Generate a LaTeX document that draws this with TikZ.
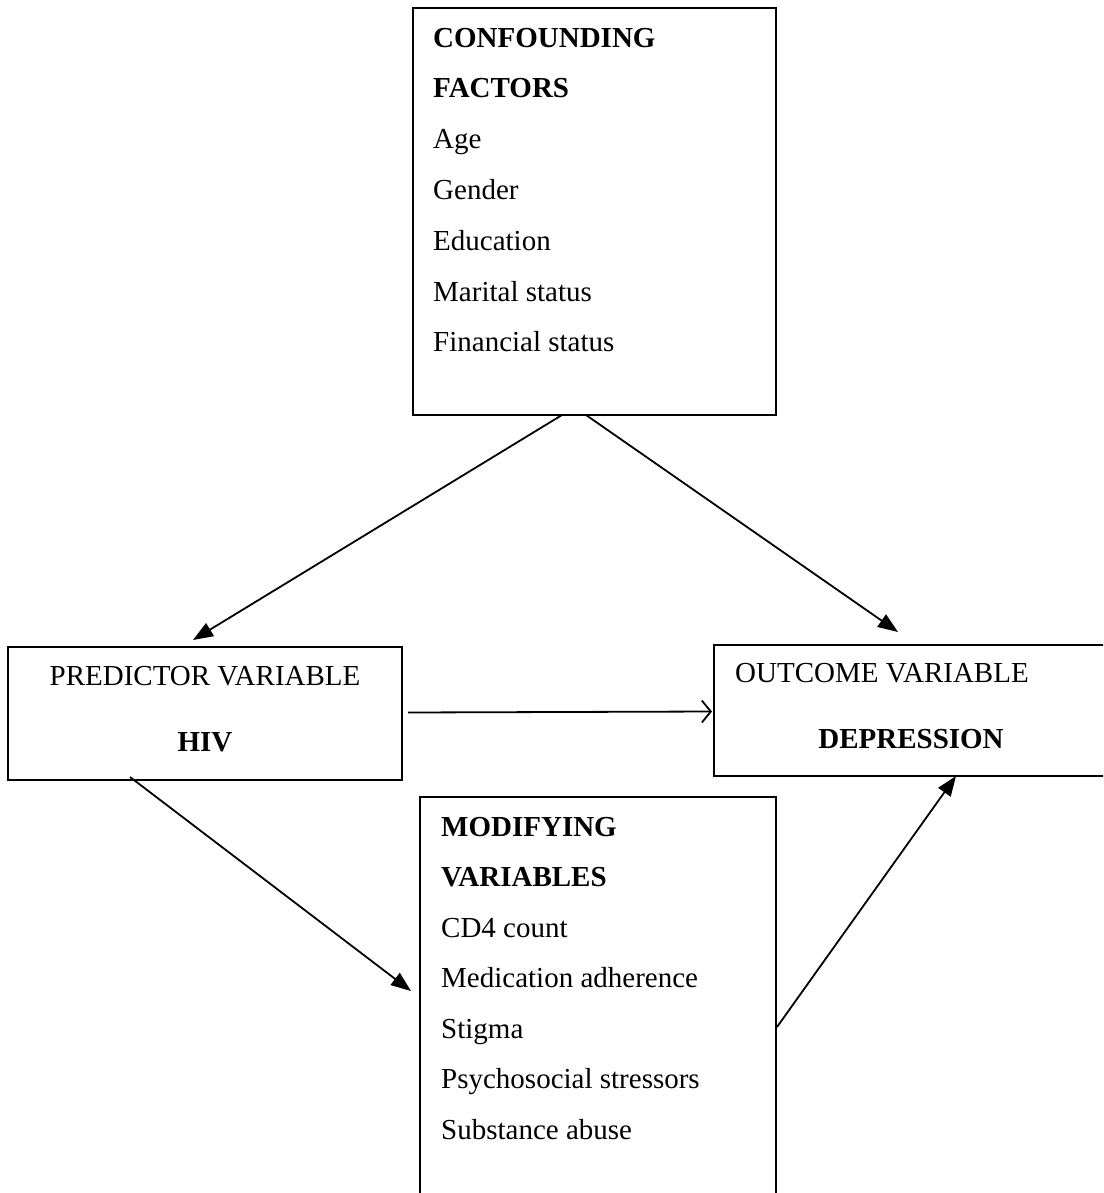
\documentclass[tikz,border=0pt]{standalone}
\usepackage{fontspec}
\setmainfont{Liberation Serif}
\usetikzlibrary{arrows.meta,calc}
\begin{document}
\begin{tikzpicture}[x=1pt,y=-1pt,
  box/.style={draw,line width=1.5pt,inner sep=0pt,outer sep=0pt,anchor=north west},
  txt/.style={anchor=base west,inner sep=0pt,font=\fontsize{29}{34}\selectfont},
  ctxt/.style={anchor=base,inner sep=0pt,font=\fontsize{29}{34}\selectfont},
  conn/.style={line width=1.8pt,-{Triangle[length=20pt,width=15pt]}},
  openconn/.style={line width=1.8pt,-{Straight Barb[length=9pt,width=22pt,line width=1.8pt]}}]
\useasboundingbox (0,0) rectangle (1103,1193);
\clip (0,0) rectangle (1103,1193);
% boxes
\node[box,minimum width=363pt,minimum height=407pt] (conf) at (413,8) {};
\node[box,minimum width=394pt,minimum height=133pt] (pred) at (8,647) {};
\node[box,minimum width=400pt,minimum height=131pt] (outc) at (714,645) {};
\node[box,minimum width=356pt,minimum height=420pt] (modi) at (420,797) {};
% confounding text
\node[txt,font=\fontsize{29}{34}\selectfont\bfseries] (c1) at (433,48) {CONFOUNDING};
\node[txt,font=\fontsize{29}{34}\selectfont\bfseries] (c2) at (433,98) {FACTORS};
\node[txt] (c3) at (433,149) {Age};
\node[txt] (c4) at (433,200) {Gender};
\node[txt] (c5) at (433,250) {Education};
\node[txt] (c6) at (433,301) {Marital status};
\node[txt] (c7) at (433,351) {Financial status};
% predictor text
\node[ctxt] (p1) at (205,685) {PREDICTOR VARIABLE};
\node[ctxt,font=\fontsize{29}{34}\selectfont\bfseries] (p2) at (205,751) {HIV};
% outcome text
\node[txt] (o1) at (735,682) {OUTCOME VARIABLE};
\node[ctxt,font=\fontsize{29}{34}\selectfont\bfseries] (o2) at (911,748) {DEPRESSION};
% modifying text
\node[txt,font=\fontsize{29}{34}\selectfont\bfseries] (m1) at (441,836) {MODIFYING};
\node[txt,font=\fontsize{29}{34}\selectfont\bfseries] (m2) at (441,886) {VARIABLES};
\node[txt] (m3) at (441,937) {CD4 count};
\node[txt] (m4) at (441,987) {Medication adherence};
\node[txt] (m5) at (441,1038) {Stigma};
\node[txt] (m6) at (441,1088) {Psychosocial stressors};
\node[txt] (m7) at (441,1139) {Substance abuse};
% connectors
\draw[conn] ($(conf.south west)+(149,0)$) -- ($(pred.north west)+(185,-7)$);
\draw[conn] ($(conf.south west)+(173,0)$) -- ($(outc.north west)+(184,-13)$);
\draw[openconn] ($(pred.east)+(6,-1)$) -- ($(outc.west)+(-2,1)$);
\draw[conn] ($(pred.south west)+(122,-3)$) -- ($(modi.north west)+(-9,194)$);
\draw[conn] ($(modi.north east)+(1,230)$) -- ($(outc.south west)+(242,0)$);
\end{tikzpicture}
\end{document}
